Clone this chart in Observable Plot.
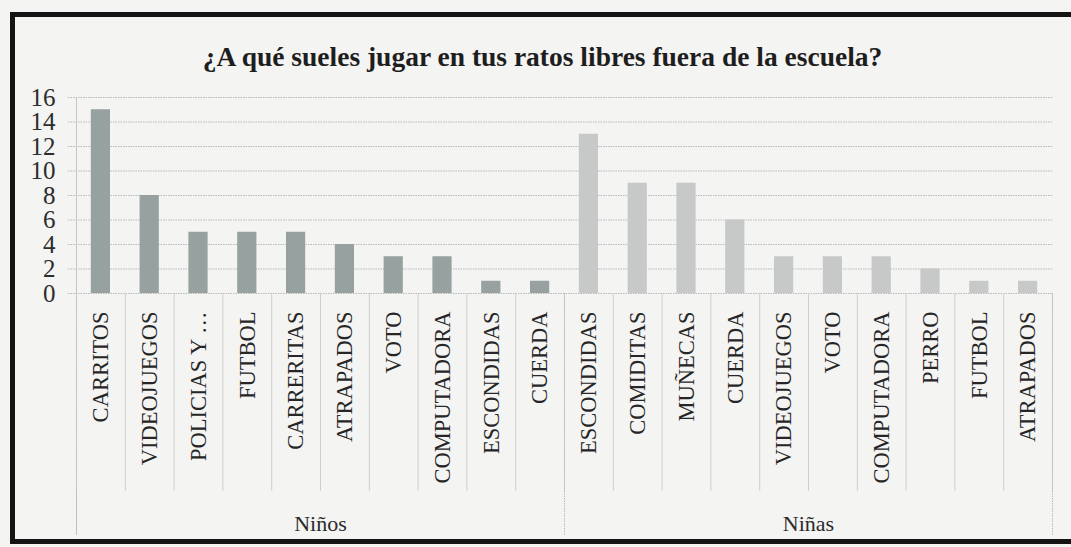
<!DOCTYPE html>
<html>
<head>
<meta charset="utf-8">
<script src="https://cdn.jsdelivr.net/npm/d3@7"></script>
<script src="https://cdn.jsdelivr.net/npm/@observablehq/plot@0.6"></script>
<style>
  html, body { margin: 0; padding: 0; background: #f4f4f3; }
  #wrap { position: relative; width: 1071px; height: 547px; overflow: hidden; }
  #frame { position: absolute; left: 10px; top: 12px; width: 1100px; height: 522px;
           border: 5px solid #141414; pointer-events: none; }
  svg { display: block; }
</style>
</head>
<body>
<div id="wrap"><div id="frame"></div></div>
<script>
const title = "¿A qué sueles jugar en tus ratos libres fuera de la escuela?";
const groups = ["Niños", "Niñas"];
const ninosCats = ["CARRITOS", "VIDEOJUEGOS", "POLICIAS Y …", "FUTBOL", "CARRERITAS", "ATRAPADOS", "VOTO", "COMPUTADORA", "ESCONDIDAS", "CUERDA"];
const ninosVals = [15, 8, 5, 5, 5, 4, 3, 3, 1, 1];
const ninasCats = ["ESCONDIDAS", "COMIDITAS", "MUÑECAS", "CUERDA", "VIDEOJUEGOS", "VOTO", "COMPUTADORA", "PERRO", "FUTBOL", "ATRAPADOS"];
const ninasVals = [13, 9, 9, 6, 3, 3, 3, 2, 1, 1];
const yTicks = [0, 2, 4, 6, 8, 10, 12, 14, 16];
const colors = ["#97a19f", "#c6c9c8"];

const series = [[ninosCats, ninosVals], [ninasCats, ninasVals]];
const rows = [];
const groupRows = [];
let idx = 0;
series.forEach(([cats, vals], g) => {
  const start = idx;
  cats.forEach((c, k) => { rows.push({group: groups[g], cat: c, value: vals[k], i: idx}); idx++; });
  groupRows.push({group: groups[g], start, end: idx});
});
const n = idx;
const catEdges = d3.range(0, n + 1);
const groupEdges = [0, ...groupRows.map(d => d.end)];

const font = "'Liberation Serif', 'Times New Roman', 'DejaVu Serif', serif";

const chart = Plot.plot({
  width: 1071,
  height: 547,
  marginLeft: 76,
  marginRight: 19,
  marginTop: 97,
  marginBottom: 254,
  style: {background: "transparent", fontFamily: font, color: "#2a2a2a"},
  x: {domain: [0, n], axis: null},
  y: {domain: [0, 16], ticks: yTicks, label: null},
  color: {domain: groups, range: colors},
  marks: [
    Plot.ruleY(yTicks, {stroke: "#b9b9b9", strokeWidth: 1, strokeDasharray: "1.5,1", insetLeft: -8}),
    Plot.ruleX([0], {stroke: "#c4c4c4", strokeWidth: 1, insetBottom: -242}),
    Plot.ruleX(catEdges, {stroke: "#cfcfcf", strokeWidth: 1, insetTop: 196, insetBottom: -198}),
    Plot.ruleX(groupEdges, {stroke: "#bdbdbd", strokeWidth: 1, strokeDasharray: "1.5,1", insetTop: 196, insetBottom: -242}),
    Plot.rectY(rows, {x1: "i", x2: d => d.i + 1, y: "value", fill: "group", insetLeft: 14.8, insetRight: 14.8}),
    Plot.axisY({ticks: yTicks, tickSize: 0, tickPadding: 21, fontSize: 25, fontFamily: font, fill: "#2c2c2c", label: null}),
    Plot.text(rows, {x: d => d.i + 0.5, y: 0, text: "cat", rotate: -90, textAnchor: "end", dy: 18,
                     fontSize: 22.5, fontFamily: font, fill: "#262626"}),
    Plot.text(groupRows, {x: d => (d.start + d.end) / 2, text: "group", frameAnchor: "bottom", lineAnchor: "middle", dy: 230,
                          fontSize: 22, fontFamily: font, fill: "#2a2a2a"}),
    Plot.text([title], {frameAnchor: "top", lineAnchor: "middle", dx: -22, dy: -40, text: d => d, fontSize: 27.5,
                        fontWeight: "bold", fontFamily: font, fill: "#1e1e1e"})
  ]
});
document.getElementById("wrap").prepend(chart);
</script>
</body>
</html>
